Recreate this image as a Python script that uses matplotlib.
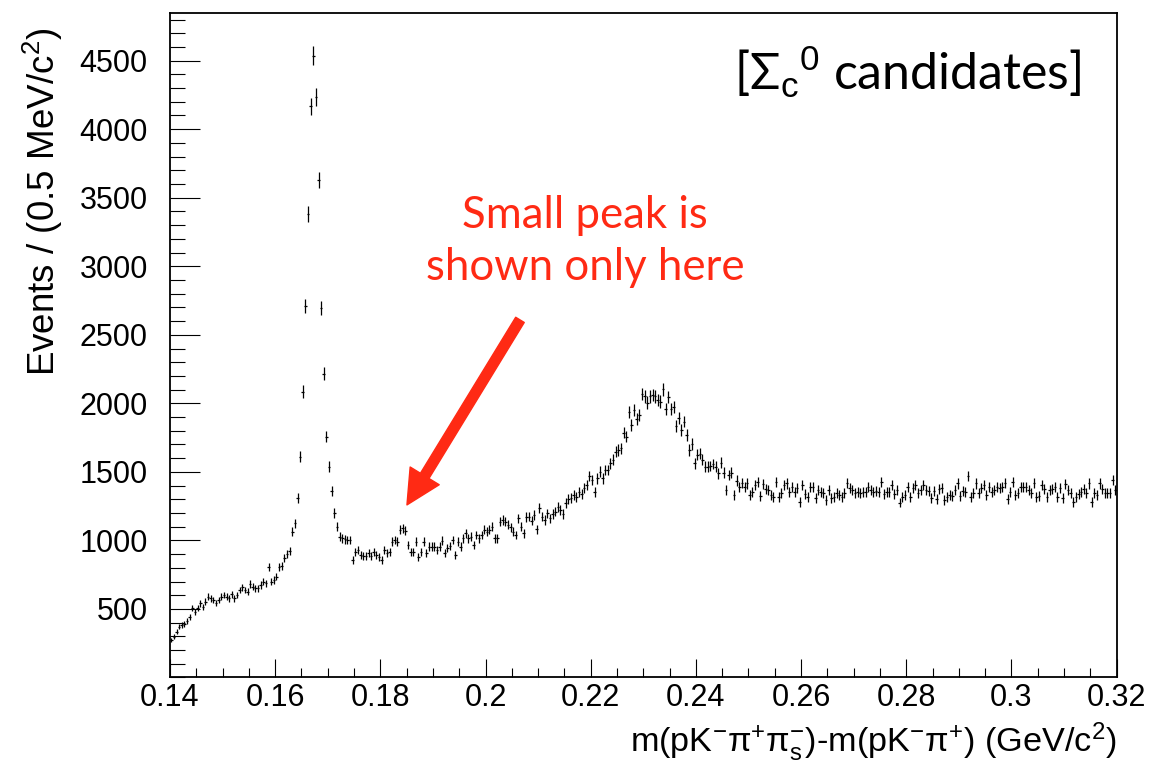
import numpy as np
import matplotlib
matplotlib.use("Agg")
import matplotlib.pyplot as plt
from matplotlib.ticker import MultipleLocator, FixedLocator, FormatStrFormatter

plt.rcParams['font.family'] = ['Liberation Sans', 'DejaVu Sans']
plt.rcParams['mathtext.fontset'] = 'custom'
plt.rcParams['mathtext.rm'] = 'Liberation Sans'
plt.rcParams['mathtext.it'] = 'Liberation Sans:italic'
plt.rcParams['mathtext.bf'] = 'Liberation Sans:bold'

# histogram: 0.14 - 0.32 GeV/c^2, 0.5 MeV bins
x_min = 0.14
bin_w = 0.0005

# counts, bin by bin
counts_rise = [274, 298, 335, 371, 383, 390, 414, 443, 504, 480,
               504, 540, 516, 553, 590, 577, 565, 545, 565, 590,
               602, 590, 577, 608, 577, 602, 638, 657, 638, 626,
               682, 662, 650, 650, 675, 699, 687, 804, 699, 711,
               735, 804, 813, 869, 901, 925]
counts_peak = [1063, 1124, 1308, 1612, 2086, 2712, 3381, 4166, 4536, 4235,
               3631, 2695, 2215, 1758, 1539, 1362, 1199, 1101]
counts_dip = [1028, 1016, 1009, 1004, 1004, 858, 918, 930, 894, 887,
              887, 906, 887, 918, 894, 882, 858, 930, 906, 918,
              991, 1004, 991, 1077, 1089, 1072, 967, 918, 918, 991,
              882, 918, 991, 906, 955, 955, 955, 930, 955, 999,
              906, 943, 960, 1004, 894, 991, 955, 1016, 1052, 1016,
              1028, 967, 1040, 1016, 1040, 1077, 1065, 1077, 1101, 1016,
              1016, 1138, 1150, 1138, 1114, 1097, 1065]
counts_bump = [1040, 1162, 1101, 1053, 1170, 1174, 1145, 1186, 1082, 1235,
               1174, 1150, 1198, 1162, 1193, 1210, 1242, 1223, 1193, 1271,
               1300, 1308, 1332, 1315, 1356, 1339, 1380, 1405, 1470, 1441,
               1356, 1453, 1502, 1453, 1514, 1514, 1563, 1587, 1648, 1660,
               1672, 1786, 1757, 1940, 1842, 1952, 1884, 1916, 2069, 2050,
               2006, 2050, 2062, 2050, 2025, 2013, 2103, 1957, 2045, 1957,
               1972, 1835, 1891, 1806, 1867, 1769, 1660, 1704, 1563, 1624,
               1631, 1587, 1538, 1538, 1543, 1558, 1538, 1490]
counts_flat = [1568, 1495, 1369, 1478, 1495, 1332, 1436, 1392, 1421, 1392,
               1416, 1332, 1356, 1404, 1428, 1325, 1411, 1373, 1369, 1332,
               1315, 1428, 1320, 1349, 1404, 1416, 1356, 1392, 1356, 1380,
               1283, 1404, 1339, 1315, 1392, 1392, 1308, 1369, 1356, 1344,
               1295, 1369, 1308, 1315, 1344, 1332, 1315, 1344, 1421, 1380,
               1369, 1344, 1356, 1344, 1356, 1356, 1392, 1369, 1356, 1363,
               1356, 1428, 1339, 1356, 1356, 1404, 1339, 1369, 1276, 1320,
               1332, 1392, 1320, 1380]
counts_tail = [1404, 1349, 1369, 1404, 1369, 1363, 1308, 1363, 1300, 1373,
               1380, 1295, 1320, 1332, 1325, 1369, 1416, 1325, 1363, 1356,
               1470, 1320, 1344, 1416, 1349, 1380, 1404, 1332, 1392, 1356,
               1369, 1392, 1380, 1387, 1421, 1300, 1356, 1428, 1332, 1349,
               1392, 1392, 1392, 1369, 1344, 1421, 1320, 1325, 1404, 1373,
               1315, 1369, 1373, 1392, 1320, 1380, 1308, 1411, 1369, 1344,
               1283, 1315, 1339, 1356, 1373, 1344, 1416, 1283, 1344, 1332,
               1416, 1373, 1344, 1344, 1344, 1440, 1369]

counts = np.array(counts_rise + counts_peak + counts_dip + counts_bump
                  + counts_flat + counts_tail, dtype=float)
centers = x_min + bin_w * (np.arange(len(counts)) + 0.5)
errors = np.sqrt(counts)

red = '#ff2a14'

fig = plt.figure(figsize=(11.5, 7.69), dpi=100)
ax = fig.add_axes([0.1478, 0.119, 0.8232, 0.8645])

ax.errorbar(centers, counts, xerr=bin_w / 2, yerr=errors, fmt='none',
            ecolor='black', elinewidth=0.9, capsize=0)

ax.set_xlim(0.14, 0.32)
ax.set_ylim(0, 4850)

ax.xaxis.set_major_locator(MultipleLocator(0.02))
ax.xaxis.set_minor_locator(MultipleLocator(0.005))
ax.xaxis.set_major_formatter(FormatStrFormatter('%g'))
ax.yaxis.set_major_locator(FixedLocator([500, 1000, 1500, 2000, 2500,
                                         3000, 3500, 4000, 4500]))
ax.yaxis.set_minor_locator(MultipleLocator(100))

ax.tick_params(axis='both', which='both', direction='in', top=False,
               right=False, width=0.8, labelsize=22)
ax.tick_params(axis='y', which='major', length=21.5, pad=16)
ax.tick_params(axis='y', which='minor', length=10.8)
ax.tick_params(axis='x', which='major', length=13, pad=4)
ax.tick_params(axis='x', which='minor', length=6.5)
for s in ax.spines.values():
    s.set_linewidth(1.3)

ax.set_xlabel(r'm(pK$^{-}$π$^{+}$π$^{-}_{\mathrm{s}}$)-m(pK$^{-}$π$^{+}$) (GeV/c$^{2}$)',
              fontsize=24.7, loc='right')
ax.xaxis.set_label_coords(1.0, -0.064)
ax.set_ylabel(r'Events / (0.5 MeV/c$^{2}$)', fontsize=26.5, loc='top')
ax.yaxis.set_label_coords(-0.111, 0.977)

fig.text(0.789, 0.906, r'[Σ$_{\mathrm{c}}$$^{0}$ candidates]', fontsize=36,
         family=['Lato', 'DejaVu Sans'], ha='center', va='center')

fig.text(0.5087, 0.686, 'Small peak is\nshown only here', fontsize=31.5,
         family=['Lato', 'DejaVu Sans'], color=red, ha='center', va='center',
         linespacing=1.32)

ax.annotate('', xy=(0.18506, 1259), xytext=(0.20655, 2609),
            arrowprops=dict(arrowstyle='simple,head_length=2.45,head_width=2.45,tail_width=0.72',
                            mutation_scale=10, color=red, shrinkA=0, shrinkB=0))

fig.savefig('out.png', dpi=100)
